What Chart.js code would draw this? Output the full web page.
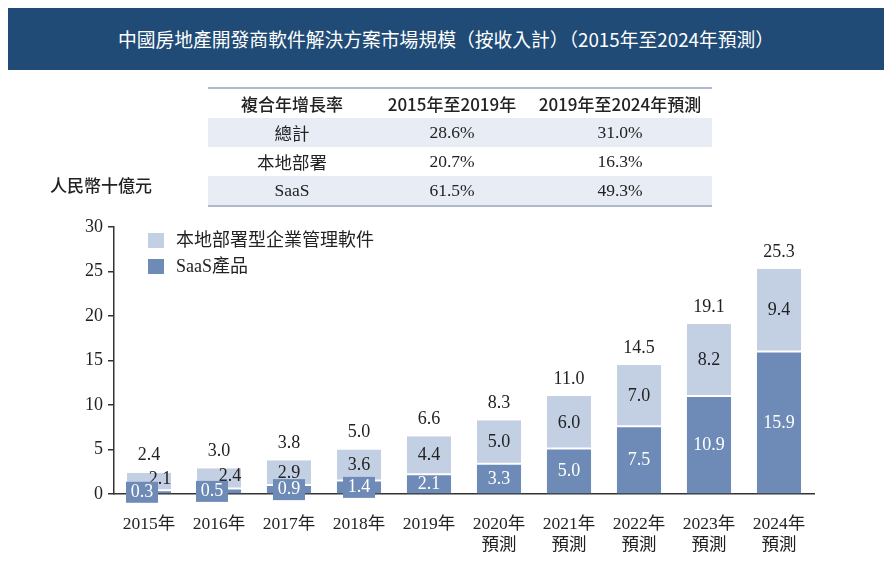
<!DOCTYPE html>
<html>
<head>
<meta charset="utf-8">
<script src="https://cdn.jsdelivr.net/npm/chart.js@4"></script>
<style>
  body { margin: 0; background: #fff; }
  #wrap { position: relative; width: 892px; height: 568px; overflow: hidden; }
  #chart { position: absolute; left: 0; top: 0; }
  .banner { position: absolute; left: 8px; top: 8px; width: 876px; height: 62px; background: #1f4b76;
    color: #fff; font: 400 18.8px "Noto Sans CJK TC", sans-serif; text-align: center; line-height: 62px; }
  table { position: absolute; left: 208px; top: 87px; width: 504px; border-collapse: collapse;
    border-top: 2px solid #aeb9cc; border-bottom: 2px solid #aeb9cc; }
  td, th { height: 29px; padding: 0; text-align: center; color: #222; }
  th { font: 500 17px "Noto Sans CJK TC", sans-serif; }
  td { font: 17.5px "Liberation Serif", "Noto Sans CJK TC", serif; }
  tr.shade td { background: #e8edf5; }
  .ytitle { position: absolute; left: 50px; top: 172px; font: 500 17px "Noto Sans CJK TC", sans-serif; color: #222; }
  .legend { position: absolute; left: 148px; top: 231px; font: 18px "Liberation Serif", "Noto Sans CJK TC", serif; color: #222; }
  .legend div { height: 26px; line-height: 18px; }
  .legend span.box { display: inline-block; width: 16px; height: 15px; vertical-align: -2px; margin-right: 12px; }
</style>
</head>
<body>
<div id="wrap">
  <canvas id="chart" width="892" height="568"></canvas>
  <div class="banner">中國房地產開發商軟件解決方案市場規模（按收入計）（2015年至2024年預測）</div>
  <table id="cagr"></table>
  <div class="ytitle">人民幣十億元</div>
  <div class="legend" id="legend"></div>
</div>
<script>
const years = [["2015年"], ["2016年"], ["2017年"], ["2018年"], ["2019年"],
  ["2020年", "預測"], ["2021年", "預測"], ["2022年", "預測"], ["2023年", "預測"], ["2024年", "預測"]];
const onPremise = [2.1, 2.4, 2.9, 3.6, 4.4, 5.0, 6.0, 7.0, 8.2, 9.4];
const saas = [0.3, 0.5, 0.9, 1.4, 2.1, 3.3, 5.0, 7.5, 10.9, 15.9];
const totals = [2.4, 3.0, 3.8, 5.0, 6.6, 8.3, 11.0, 14.5, 19.1, 25.3];
const yTicks = [0, 5, 10, 15, 20, 25, 30];

const cagrHeader = ["複合年增長率", "2015年至2019年", "2019年至2024年預測"];
const cagrRows = [["總計", "28.6%", "31.0%"], ["本地部署", "20.7%", "16.3%"], ["SaaS", "61.5%", "49.3%"]];

const lightBlue = "#c3cfe3";
const darkBlue = "#6e8bb7";
const seriesNames = ["本地部署型企業管理軟件", "SaaS產品"];

// table
const table = document.getElementById("cagr");
table.innerHTML = "<tr>" + cagrHeader.map(h => `<th>${h}</th>`).join("") + "</tr>" +
  cagrRows.map((r, i) => `<tr class="${i % 2 === 0 ? "shade" : ""}">` + r.map(c => `<td>${c}</td>`).join("") + "</tr>").join("");
const widths = ["168px", "152px", "184px"];
table.querySelectorAll("th").forEach((th, i) => th.style.width = widths[i]);

// legend
document.getElementById("legend").innerHTML =
  `<div><span class="box" style="background:${lightBlue}"></span>${seriesNames[0]}</div>` +
  `<div><span class="box" style="background:${darkBlue}"></span>${seriesNames[1]}</div>`;

const serif = "'Liberation Serif', 'Noto Sans CJK TC', serif";

const barLabels = {
  id: "barLabels",
  afterDatasetsDraw(chart) {
    const ctx = chart.ctx;
    const dark = chart.getDatasetMeta(0).data;
    const light = chart.getDatasetMeta(1).data;
    ctx.save();
    ctx.font = "18px " + serif;
    ctx.textAlign = "center";
    ctx.textBaseline = "middle";
    dark.forEach((bar, i) => {
      const top = light[i].y;
      const dh = bar.base - bar.y;
      const lh = light[i].base - light[i].y;
      const small = dh < 15;
      // total
      ctx.fillStyle = "#222";
      ctx.fillText(totals[i].toFixed(1), bar.x, top - 17);
      // on-premise
      ctx.fillText(onPremise[i].toFixed(1), bar.x + (small && lh < 24 ? 11 : 0), (light[i].y + light[i].base) / 2 - (small && lh < 24 ? 3 : 0));
      // saas
      const cy = (bar.y + bar.base) / 2;
      let cx = bar.x;
      if (small) {
        if (dh < 6) cx -= 7;
        ctx.fillStyle = darkBlue;
        ctx.fillRect(cx - 16, cy - 10.5, 32, 21);
      }
      ctx.fillStyle = "#fff";
      ctx.fillText(saas[i].toFixed(1), cx, cy);
    });
    ctx.restore();
  }
};

new Chart(document.getElementById("chart"), {
  type: "bar",
  data: {
    labels: years,
    datasets: [
      { label: seriesNames[1], data: saas, backgroundColor: darkBlue, borderWidth: 0 },
      { label: seriesNames[0], data: onPremise, backgroundColor: lightBlue, borderColor: "#fff",
        borderWidth: { top: 0, left: 0, right: 0, bottom: 2 }, borderSkipped: false }
    ]
  },
  options: {
    responsive: false,
    animation: false,
    barPercentage: 0.63,
    categoryPercentage: 1,
    layout: { padding: { top: 227, right: 78, left: 0, bottom: 0 } },
    plugins: { legend: { display: false }, tooltip: { enabled: false } },
    scales: {
      x: {
        stacked: true,
        grid: { drawOnChartArea: false, drawTicks: false },
        border: { display: true, color: "#333", width: 1.5 },
        ticks: { color: "#222", font: { family: serif, size: 17.5, lineHeight: 1.2 }, padding: 20, maxRotation: 0 },
        afterFit: s => { s.height = 74; }
      },
      y: {
        stacked: true,
        min: 0,
        max: 30,
        afterBuildTicks: s => { s.ticks = yTicks.map(v => ({ value: v })); },
        grid: { drawOnChartArea: false, drawTicks: true, tickLength: 6, color: "#333", lineWidth: 1.5 },
        border: { display: true, color: "#333", width: 1.5 },
        ticks: { color: "#222", font: { family: serif, size: 18 }, padding: 5 },
        afterFit: s => { s.width = 114; }
      }
    }
  },
  plugins: [barLabels]
});
</script>
</body>
</html>
